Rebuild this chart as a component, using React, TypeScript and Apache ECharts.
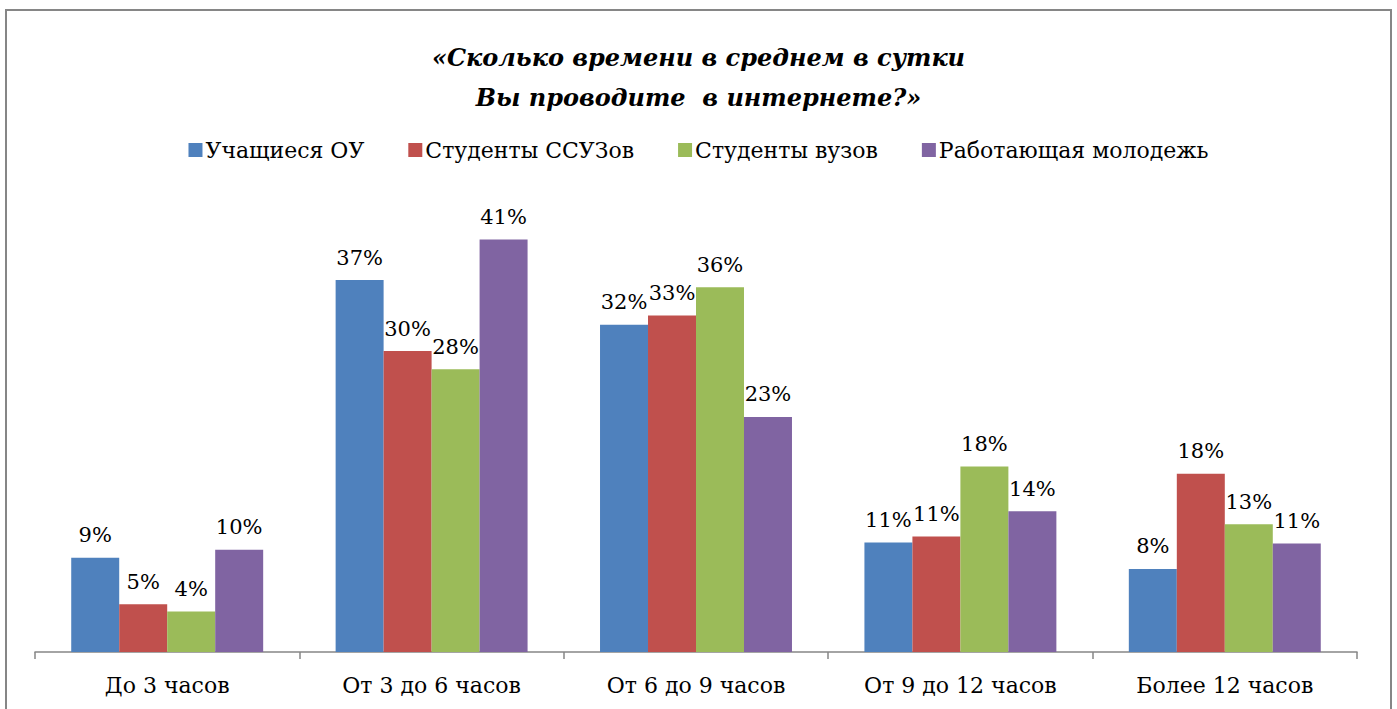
import React, { useEffect, useRef } from "react";
import * as echarts from "echarts";

const categories = ["До 3 часов", "От 3 до 6 часов", "От 6 до 9 часов", "От 9 до 12 часов", "Более 12 часов"];
const seriesNames = ["Учащиеся ОУ", "Студенты ССУЗов", "Студенты вузов", "Работающая молодежь"];
const pupils = [9.3, 36.7, 32.3, 10.8, 8.2];
const colleges = [4.7, 29.7, 33.2, 11.4, 17.6];
const universities = [4.0, 27.9, 36.0, 18.3, 12.6];
const working = [10.1, 40.7, 23.2, 13.9, 10.7];
const colors = ["#4F81BD", "#C0504D", "#9BBB59", "#8064A2"];
const titleLines = ["«Сколько времени в среднем в сутки", "Вы проводите  в интернете?»"];

export default function App() {
  const ref = useRef<HTMLDivElement>(null);
  useEffect(() => {
    if (!ref.current) return;
    const chart = echarts.init(ref.current, null, { renderer: "svg" });
    const data = [pupils, colleges, universities, working];
    const font = "DejaVu Serif";
    chart.setOption({
      animation: false,
      backgroundColor: "#ffffff",
      textStyle: { fontFamily: font },
      title: {
        text: titleLines.join("\n"),
        left: "center",
        top: 32,
        textStyle: {
          fontFamily: font,
          fontSize: 24,
          fontWeight: "bold",
          fontStyle: "italic",
          color: "#000",
          lineHeight: 40,
        },
      },
      legend: {
        top: 134,
        left: "center",
        itemWidth: 14,
        itemHeight: 14,
        itemGap: 44,
        icon: "rect",
        textStyle: { fontFamily: font, fontSize: 22, color: "#000", padding: [0, 0, 0, -2] },
        data: seriesNames,
      },
      grid: { left: 35, right: 40, top: 196, bottom: 57, containLabel: false },
      xAxis: {
        type: "category",
        data: categories,
        axisLine: { lineStyle: { color: "#868686", width: 1.5 } },
        axisTick: { show: true, length: 7, lineStyle: { color: "#868686", width: 1.5 } },
        axisLabel: { fontFamily: font, fontSize: 22, color: "#000", margin: 22 },
      },
      yAxis: { type: "value", min: 0, max: 45, show: false, splitLine: { show: false } },
      series: seriesNames.map((name, i) => ({
        name,
        type: "bar",
        data: data[i],
        barGap: "0%",
        barCategoryGap: "27.4%",
        itemStyle: { color: colors[i] },
        label: {
          show: true,
          position: "top",
          distance: 12,
          fontFamily: font,
          fontSize: 21,
          color: "#000",
          formatter: (p: any) => Math.round(p.value) + "%",
        },
      })),
      graphic: [
        {
          type: "rect",
          shape: { x: 6, y: 10, width: 1385, height: 740 },
          style: { fill: "none", stroke: "#868686", lineWidth: 2 },
          silent: true,
        },
      ],
    });
    return () => chart.dispose();
  }, []);
  return <div ref={ref} style={{ position: "fixed", left: 0, top: 0, width: 1397, height: 709 }} />;
}
